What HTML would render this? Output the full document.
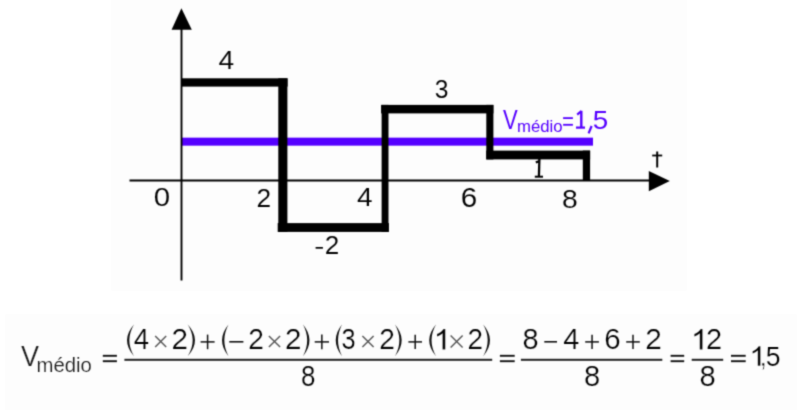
<!DOCTYPE html>
<html><head><meta charset="utf-8"><style>
html,body{margin:0;padding:0;background:#fff;}
body{width:800px;height:410px;overflow:hidden;}
svg{display:block;font-family:"Liberation Sans", sans-serif;}
</style></head><body>
<svg width="800" height="410" viewBox="0 0 800 410">
<defs><filter id="bl" color-interpolation-filters="sRGB" filterUnits="userSpaceOnUse" x="0" y="0" width="800" height="410"><feConvolveMatrix order="3" kernelMatrix="1 4 1 4 16 4 1 4 1" preserveAlpha="true"/></filter></defs>
<rect width="800" height="410" fill="#fff"/>
<g filter="url(#bl)">
<rect width="800" height="410" fill="#fff"/>
<rect x="111.00" y="0.00" width="576.00" height="291.00" fill="#fdfdfd"/>
<rect x="5.00" y="314.00" width="792.00" height="96.00" fill="#fdfdfd"/>
<rect x="181.00" y="137.65" width="412.00" height="8.00" fill="#5500ff"/>
<line x1="181.50" y1="28.00" x2="181.50" y2="280.50" stroke="#000" stroke-width="1.9" stroke-linecap="butt"/>
<polygon points="181.40,8.30 171.60,29.70 191.80,29.70" fill="#000"/>
<line x1="129.50" y1="180.50" x2="650.00" y2="180.50" stroke="#000" stroke-width="1.9" stroke-linecap="butt"/>
<polygon points="669.80,181.00 648.80,171.00 648.80,191.20" fill="#000"/>
<rect x="181.00" y="78.30" width="106.60" height="8.30" fill="#000"/>
<rect x="278.30" y="78.30" width="9.10" height="153.60" fill="#000"/>
<rect x="277.70" y="223.10" width="111.20" height="8.80" fill="#000"/>
<rect x="381.60" y="104.90" width="6.90" height="127.00" fill="#000"/>
<rect x="381.10" y="104.90" width="112.30" height="8.50" fill="#000"/>
<rect x="486.30" y="104.90" width="7.10" height="54.50" fill="#000"/>
<rect x="486.30" y="150.60" width="103.80" height="8.80" fill="#000"/>
<rect x="582.80" y="150.60" width="7.30" height="30.20" fill="#000"/>
<text transform="translate(218.45,69.30) scale(0.2818,0.2587)" font-size="100" fill="#000" stroke="#fff" stroke-width="0.3">4</text>
<text transform="translate(153.65,206.24) scale(0.2950,0.2641)" font-size="100" fill="#000" stroke="#fff" stroke-width="0.3">0</text>
<text transform="translate(256.48,206.50) scale(0.2634,0.2650)" font-size="100" fill="#000" stroke="#fff" stroke-width="0.3">2</text>
<text transform="translate(357.06,206.30) scale(0.2798,0.2616)" font-size="100" fill="#000" stroke="#fff" stroke-width="0.3">4</text>
<text transform="translate(460.69,206.54) scale(0.2969,0.2684)" font-size="100" fill="#000" stroke="#fff" stroke-width="0.3">6</text>
<text transform="translate(561.97,208.24) scale(0.2834,0.2669)" font-size="100" fill="#000" stroke="#fff" stroke-width="0.3">8</text>
<rect x="315.60" y="247.00" width="7.30" height="1.70" fill="#000"/>
<text transform="translate(324.79,253.90) scale(0.2612,0.2578)" font-size="100" fill="#000" stroke="#fff" stroke-width="0.3">2</text>
<text transform="translate(434.66,98.04) scale(0.2468,0.2613)" font-size="100" fill="#000" stroke="#fff" stroke-width="0.3">3</text>
<line x1="539.40" y1="158.50" x2="538.90" y2="176.50" stroke="#000" stroke-width="2.3" stroke-linecap="butt"/>
<line x1="535.80" y1="162.40" x2="539.20" y2="161.20" stroke="#000" stroke-width="2.2" stroke-linecap="butt"/>
<line x1="534.80" y1="176.70" x2="543.00" y2="176.70" stroke="#000" stroke-width="2.0" stroke-linecap="butt"/>
<line x1="657.20" y1="151.50" x2="657.20" y2="167.50" stroke="#000" stroke-width="2.0" stroke-linecap="butt"/>
<line x1="652.20" y1="155.50" x2="662.20" y2="155.50" stroke="#000" stroke-width="1.8" stroke-linecap="butt"/>
<text transform="translate(503.10,128.90) scale(0.2203,0.2733)" font-size="100" fill="#5500ff" >V</text>
<text transform="translate(516.99,132.24) scale(0.1675,0.1689)" font-size="100" fill="#5500ff" >médio</text>
<rect x="563.10" y="117.20" width="9.80" height="1.80" fill="#5500ff"/>
<rect x="563.10" y="123.90" width="9.80" height="1.80" fill="#5500ff"/>
<line x1="581.30" y1="110.80" x2="581.30" y2="127.80" stroke="#5500ff" stroke-width="2.4" stroke-linecap="butt"/>
<line x1="577.20" y1="114.60" x2="581.40" y2="111.00" stroke="#5500ff" stroke-width="2.2" stroke-linecap="butt"/>
<line x1="576.00" y1="127.60" x2="585.00" y2="127.60" stroke="#5500ff" stroke-width="2.2" stroke-linecap="butt"/>
<line x1="591.60" y1="126.00" x2="588.60" y2="133.40" stroke="#5500ff" stroke-width="2.2" stroke-linecap="butt"/>
<text transform="translate(592.69,128.64) scale(0.2784,0.2637)" font-size="100" fill="#5500ff" >5</text>
<text transform="translate(20.88,365.70) scale(0.2704,0.2980)" font-size="100" fill="#1a1a1a" stroke="#fff" stroke-width="0.8">V</text>
<text transform="translate(36.45,372.21) scale(0.2034,0.1984)" font-size="100" fill="#1a1a1a" stroke="#fff" stroke-width="0.8">médio</text>
<line x1="102.80" y1="355.80" x2="116.90" y2="355.80" stroke="#111" stroke-width="1.9" stroke-linecap="butt"/>
<line x1="102.80" y1="361.20" x2="116.90" y2="361.20" stroke="#111" stroke-width="1.9" stroke-linecap="butt"/>
<rect x="124.40" y="358.80" width="367.80" height="2.00" fill="#222"/>
<path d="M134.00,324.60 Q120.00,340.40 134.00,356.20 Q124.60,340.40 134.00,324.60Z" fill="#111"/>
<text transform="translate(133.87,349.40) scale(0.2758,0.2965)" font-size="100" fill="#000" stroke="#fff" stroke-width="0.8">4</text>
<line x1="155.20" y1="336.00" x2="166.20" y2="347.00" stroke="#555" stroke-width="1.4" stroke-linecap="butt"/>
<line x1="155.20" y1="347.00" x2="166.20" y2="336.00" stroke="#555" stroke-width="1.4" stroke-linecap="butt"/>
<text transform="translate(171.51,349.40) scale(0.2963,0.2922)" font-size="100" fill="#000" stroke="#fff" stroke-width="0.8">2</text>
<path d="M187.70,324.60 Q202.30,340.40 187.70,356.20 Q197.70,340.40 187.70,324.60Z" fill="#111"/>
<line x1="200.60" y1="341.90" x2="214.60" y2="341.90" stroke="#111" stroke-width="1.5" stroke-linecap="butt"/>
<line x1="207.60" y1="334.60" x2="207.60" y2="349.20" stroke="#111" stroke-width="1.5" stroke-linecap="butt"/>
<path d="M228.50,324.60 Q215.50,340.40 228.50,356.20 Q220.10,340.40 228.50,324.60Z" fill="#111"/>
<line x1="229.30" y1="341.80" x2="243.40" y2="341.80" stroke="#111" stroke-width="1.6" stroke-linecap="butt"/>
<text transform="translate(248.29,349.40) scale(0.2810,0.2922)" font-size="100" fill="#000" stroke="#fff" stroke-width="0.8">2</text>
<line x1="268.90" y1="335.90" x2="280.10" y2="347.10" stroke="#555" stroke-width="1.4" stroke-linecap="butt"/>
<line x1="268.90" y1="347.10" x2="280.10" y2="335.90" stroke="#555" stroke-width="1.4" stroke-linecap="butt"/>
<text transform="translate(285.01,349.40) scale(0.2963,0.2922)" font-size="100" fill="#000" stroke="#fff" stroke-width="0.8">2</text>
<path d="M303.00,324.60 Q316.00,340.40 303.00,356.20 Q311.40,340.40 303.00,324.60Z" fill="#111"/>
<line x1="314.70" y1="341.90" x2="329.00" y2="341.90" stroke="#111" stroke-width="1.5" stroke-linecap="butt"/>
<line x1="321.85" y1="334.45" x2="321.85" y2="349.35" stroke="#111" stroke-width="1.5" stroke-linecap="butt"/>
<path d="M342.00,324.60 Q329.40,340.40 342.00,356.20 Q334.00,340.40 342.00,324.60Z" fill="#111"/>
<text transform="translate(341.54,349.12) scale(0.2531,0.2881)" font-size="100" fill="#000" stroke="#fff" stroke-width="0.8">3</text>
<line x1="362.40" y1="335.90" x2="373.60" y2="347.10" stroke="#555" stroke-width="1.4" stroke-linecap="butt"/>
<line x1="362.40" y1="347.10" x2="373.60" y2="335.90" stroke="#555" stroke-width="1.4" stroke-linecap="butt"/>
<text transform="translate(379.29,349.40) scale(0.2810,0.2922)" font-size="100" fill="#000" stroke="#fff" stroke-width="0.8">2</text>
<path d="M395.00,324.60 Q408.40,340.40 395.00,356.20 Q403.80,340.40 395.00,324.60Z" fill="#111"/>
<line x1="408.40" y1="341.90" x2="422.00" y2="341.90" stroke="#111" stroke-width="1.5" stroke-linecap="butt"/>
<line x1="415.20" y1="334.80" x2="415.20" y2="349.00" stroke="#111" stroke-width="1.5" stroke-linecap="butt"/>
<path d="M436.00,324.60 Q422.40,340.40 436.00,356.20 Q427.00,340.40 436.00,324.60Z" fill="#111"/>
<path transform="translate(433.59,349.40) scale(0.01534,-0.01386)" d="M763,0 H583 V1147 Q518,1085 412,1023 Q306,961 222,930 V1104 Q373,1175 486,1276 Q599,1377 646,1472 H763 Z" fill="#000" stroke="#fff" stroke-width="15"/>
<line x1="450.60" y1="335.50" x2="462.60" y2="347.50" stroke="#555" stroke-width="1.4" stroke-linecap="butt"/>
<line x1="450.60" y1="347.50" x2="462.60" y2="335.50" stroke="#555" stroke-width="1.4" stroke-linecap="butt"/>
<text transform="translate(467.60,349.40) scale(0.2788,0.2922)" font-size="100" fill="#000" stroke="#fff" stroke-width="0.8">2</text>
<path d="M483.20,324.60 Q496.80,340.40 483.20,356.20 Q492.20,340.40 483.20,324.60Z" fill="#111"/>
<text transform="translate(301.07,386.22) scale(0.2600,0.2867)" font-size="100" fill="#000" stroke="#fff" stroke-width="0.8">8</text>
<line x1="499.90" y1="355.80" x2="514.70" y2="355.80" stroke="#111" stroke-width="1.9" stroke-linecap="butt"/>
<line x1="499.90" y1="361.20" x2="514.70" y2="361.20" stroke="#111" stroke-width="1.9" stroke-linecap="butt"/>
<rect x="520.90" y="358.80" width="141.40" height="2.00" fill="#222"/>
<text transform="translate(522.54,349.12) scale(0.2898,0.2881)" font-size="100" fill="#000" stroke="#fff" stroke-width="0.8">8</text>
<line x1="544.30" y1="341.80" x2="557.00" y2="341.80" stroke="#111" stroke-width="1.6" stroke-linecap="butt"/>
<text transform="translate(563.14,349.40) scale(0.2897,0.2965)" font-size="100" fill="#000" stroke="#fff" stroke-width="0.8">4</text>
<line x1="585.20" y1="341.90" x2="598.90" y2="341.90" stroke="#111" stroke-width="1.5" stroke-linecap="butt"/>
<line x1="592.05" y1="334.75" x2="592.05" y2="349.05" stroke="#111" stroke-width="1.5" stroke-linecap="butt"/>
<text transform="translate(604.20,349.12) scale(0.2947,0.2881)" font-size="100" fill="#000" stroke="#fff" stroke-width="0.8">6</text>
<line x1="626.20" y1="341.90" x2="639.80" y2="341.90" stroke="#111" stroke-width="1.5" stroke-linecap="butt"/>
<line x1="633.00" y1="334.80" x2="633.00" y2="349.00" stroke="#111" stroke-width="1.5" stroke-linecap="butt"/>
<text transform="translate(645.20,349.40) scale(0.2985,0.2922)" font-size="100" fill="#000" stroke="#fff" stroke-width="0.8">2</text>
<text transform="translate(583.93,386.22) scale(0.2920,0.2867)" font-size="100" fill="#000" stroke="#fff" stroke-width="0.8">8</text>
<line x1="670.60" y1="355.80" x2="684.20" y2="355.80" stroke="#111" stroke-width="1.9" stroke-linecap="butt"/>
<line x1="670.60" y1="361.20" x2="684.20" y2="361.20" stroke="#111" stroke-width="1.9" stroke-linecap="butt"/>
<rect x="691.70" y="358.80" width="31.50" height="2.00" fill="#222"/>
<path transform="translate(690.94,349.40) scale(0.01516,-0.01386)" d="M763,0 H583 V1147 Q518,1085 412,1023 Q306,961 222,930 V1104 Q373,1175 486,1276 Q599,1377 646,1472 H763 Z" fill="#000" stroke="#fff" stroke-width="15"/>
<text transform="translate(706.04,349.40) scale(0.2897,0.2922)" font-size="100" fill="#000" stroke="#fff" stroke-width="0.8">2</text>
<text transform="translate(699.53,386.22) scale(0.2920,0.2867)" font-size="100" fill="#000" stroke="#fff" stroke-width="0.8">8</text>
<line x1="731.00" y1="355.80" x2="745.70" y2="355.80" stroke="#111" stroke-width="1.9" stroke-linecap="butt"/>
<line x1="731.00" y1="361.20" x2="745.70" y2="361.20" stroke="#111" stroke-width="1.9" stroke-linecap="butt"/>
<path transform="translate(749.40,365.80) scale(0.01442,-0.01325)" d="M763,0 H583 V1147 Q518,1085 412,1023 Q306,961 222,930 V1104 Q373,1175 486,1276 Q599,1377 646,1472 H763 Z" fill="#000" stroke="#fff" stroke-width="15"/>
<text transform="translate(758.87,365.74) scale(0.3260,0.2938)" font-size="100" fill="#000" stroke="#fff" stroke-width="3">,</text>
<text transform="translate(765.74,365.53) scale(0.2658,0.2795)" font-size="100" fill="#000" stroke="#fff" stroke-width="0.8">5</text>
</g>
</svg>
</body></html>
